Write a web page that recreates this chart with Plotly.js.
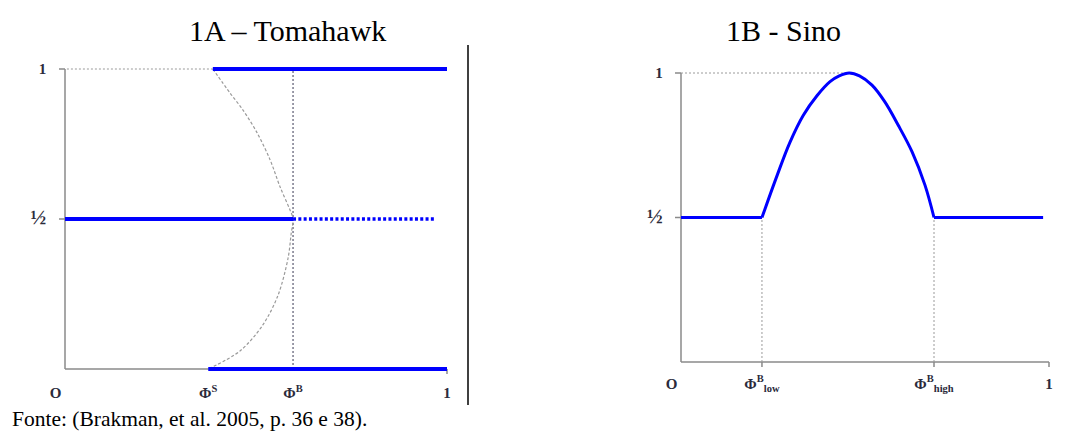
<!DOCTYPE html>
<html>
<head>
<meta charset="utf-8">
<script src="https://cdn.plot.ly/plotly-3.0.1.min.js"></script>
<style>html,body{margin:0;padding:0;background:#fff;}#chart{width:1065px;height:435px;}</style>
</head>
<body>
<div id="chart"></div>
<script>
// ---------- 1A – Tomahawk ----------
const phiS = 0.375;
const phiB = 0.597;
const upperX = [0.387, 1];      const upperY = [1, 1];
const midSolidX = [0, 0.597];   const midSolidY = [0.5, 0.5];
const midDotX = [0.597, 0.969]; const midDotY = [0.5, 0.5];
const lowerX = [0.375, 1];      const lowerY = [0, 0];
const tomaCurveX = [0.387, 0.432, 0.466, 0.503, 0.537, 0.563, 0.589, 0.597, 0.592, 0.584, 0.558, 0.518, 0.458, 0.375];
const tomaCurveY = [1.0, 0.92, 0.863, 0.787, 0.697, 0.607, 0.53, 0.5, 0.45, 0.37, 0.247, 0.147, 0.06, 0.0];
const tomaGuideX = [0.005, 0.387]; const tomaGuideY = [1, 1];
const tomaYTicks = [0.5, 1];
const tomaYLabels = ['½', '1'];
const tomaXTicks = [1];
const tomaXLabelVals = [0, 0.375, 0.597, 1];
const tomaXLabels = ['O', 'Φ<sup>S</sup>', 'Φ<sup>B</sup>', '1'];

// ---------- 1B - Sino ----------
const phiLow = 0.22;
const phiHigh = 0.6875;
const sinoLeftX = [0, 0.22];        const sinoLeftY = [0.5, 0.5];
const sinoRightX = [0.6875, 0.984]; const sinoRightY = [0.5, 0.5];
const bellX = [0.22, 0.261, 0.296, 0.332, 0.37, 0.405, 0.43, 0.457, 0.485, 0.519, 0.554, 0.59, 0.628, 0.663, 0.6875];
const bellY = [0.5, 0.645, 0.76, 0.853, 0.922, 0.97, 0.99, 1.0, 0.99, 0.958, 0.9, 0.82, 0.727, 0.612, 0.5];
const sinoGuideX = [0, 0.457]; const sinoGuideY = [1, 1];
const sinoYTicks = [0.5, 1];
const sinoYLabels = ['½', '1'];
const sinoXTicks = [0.22, 0.6875, 1];
const sinoXLabelVals = [0, 0.22, 0.6875, 1];
const sinoXLabels = ['O', 'Φ<sup>B</sup><sub>low</sub>', 'Φ<sup>B</sup><sub>high</sub>', '1'];

// ---------- layout helpers (pixel frame of each panel) ----------
const W = 1065, H = 435;
function dom(p0, p1, ext) {
  const per = (p1 - p0);
  return [p0 - ext * per, p1 + ext * per];
}
const lx = dom(65, 447, 0.02), ly = dom(369, 69, 0.03);
const rx = dom(681, 1049, 0.02), ry = dom(362, 73, 0.03);
const xd = p => [p[0] / W, p[1] / W];
const yd = p => [(H - p[0]) / H, (H - p[1]) / H];

const blue = '#0000ff';
const guide = {color: '#9a9a9a', width: 1, dash: '2px,2px'};
const serif = '"Liberation Serif", "Times New Roman", serif';

const traces = [
  // 1A
  {x: tomaGuideX, y: tomaGuideY, xaxis: 'x', yaxis: 'y', mode: 'lines', line: guide},
  {x: [phiB, phiB], y: [0, 1], xaxis: 'x', yaxis: 'y', mode: 'lines', line: {color: '#7a7a8c', width: 1.5, dash: '2px,2px'}},
  {x: tomaCurveX, y: tomaCurveY, xaxis: 'x', yaxis: 'y', mode: 'lines', line: {color: '#9a9a9a', width: 1.2, dash: '3px,2px', shape: 'spline', smoothing: 0.9}},
  {x: upperX, y: upperY, xaxis: 'x', yaxis: 'y', mode: 'lines', line: {color: blue, width: 4}},
  {x: midSolidX, y: midSolidY, xaxis: 'x', yaxis: 'y', mode: 'lines', line: {color: blue, width: 4}},
  {x: midDotX, y: midDotY, xaxis: 'x', yaxis: 'y', mode: 'lines', line: {color: blue, width: 3.5, dash: '3px,2.3px'}},
  {x: lowerX, y: lowerY, xaxis: 'x', yaxis: 'y', mode: 'lines', line: {color: blue, width: 4}},
  // 1B
  {x: sinoGuideX, y: sinoGuideY, xaxis: 'x2', yaxis: 'y2', mode: 'lines', line: guide},
  {x: [phiLow, phiLow], y: [0, 0.5], xaxis: 'x2', yaxis: 'y2', mode: 'lines', line: guide},
  {x: [phiHigh, phiHigh], y: [0, 0.5], xaxis: 'x2', yaxis: 'y2', mode: 'lines', line: guide},
  {x: sinoLeftX, y: sinoLeftY, xaxis: 'x2', yaxis: 'y2', mode: 'lines', line: {color: blue, width: 3}},
  {x: bellX, y: bellY, xaxis: 'x2', yaxis: 'y2', mode: 'lines', line: {color: blue, width: 3, shape: 'spline', smoothing: 1}},
  {x: sinoRightX, y: sinoRightY, xaxis: 'x2', yaxis: 'y2', mode: 'lines', line: {color: blue, width: 3}}
];

const axisLine = {color: '#8a8a8a', width: 1.5};
const shapes = [];
[['x', 'y'], ['x2', 'y2']].forEach(([xr, yr]) => {
  shapes.push({type: 'line', layer: 'below', xref: xr, yref: yr, x0: 0, x1: 1, y0: 0, y1: 0, line: axisLine});
  shapes.push({type: 'line', layer: 'below', xref: xr, yref: yr, x0: 0, x1: 0, y0: 0, y1: 1, line: axisLine});
});
function yTicks(vals, xr, yr) {
  vals.forEach(v => shapes.push({type: 'line', layer: 'below', xref: xr, yref: yr, xsizemode: 'pixel', xanchor: 0, x0: -6, x1: 0, y0: v, y1: v, line: axisLine}));
}
function xTicks(vals, xr, yr) {
  vals.forEach(v => shapes.push({type: 'line', layer: 'below', xref: xr, yref: yr, ysizemode: 'pixel', yanchor: 0, y0: 0, y1: -5, x0: v, x1: v, line: axisLine}));
}
yTicks(tomaYTicks, 'x', 'y'); xTicks(tomaXTicks, 'x', 'y');
yTicks(sinoYTicks, 'x2', 'y2'); xTicks(sinoXTicks, 'x2', 'y2');
shapes.push({type: 'line', xref: 'paper', yref: 'paper', x0: 468 / W, x1: 468 / W, y0: (H - 45) / H, y1: (H - 405) / H, line: {color: '#000', width: 1.5}});

const tickFont = {family: serif, size: 15, color: '#2b2b3b', weight: 700};
const yLbl = arr => arr.map(t => t === '½' ? '<span style="font-size:21px">½</span>' : t);
// origin label sits left of the origin in the reference: pad with no-break spaces
const xLbl = arr => arr.map(t => t === 'O' ? 'O\u00a0\u00a0\u00a0\u00a0\u00a0' : t);

const annotations = [
  {text: '1A – Tomahawk', xref: 'paper', yref: 'paper', x: 287 / W, y: (H - 30) / H, showarrow: false, xanchor: 'center', yanchor: 'middle', font: {family: serif, size: 30, color: '#000'}},
  {text: '1B - Sino', xref: 'paper', yref: 'paper', x: 783 / W, y: (H - 30) / H, showarrow: false, xanchor: 'center', yanchor: 'middle', font: {family: serif, size: 30, color: '#000'}},
  {text: 'Fonte: (Brakman, et al. 2005, p. 36 e 38).', xref: 'paper', yref: 'paper', x: 10 / W, y: (H - 419) / H, showarrow: false, xanchor: 'left', yanchor: 'middle', font: {family: serif, size: 21.5, color: '#000'}}
];

const base = {showgrid: false, zeroline: false, showline: false, ticks: '', tickmode: 'array', tickfont: tickFont, fixedrange: true};
const layout = {
  width: W, height: H,
  margin: {l: 0, r: 0, t: 0, b: 0},
  paper_bgcolor: '#fff', plot_bgcolor: 'rgba(0,0,0,0)',
  showlegend: false,
  xaxis: Object.assign({}, base, {domain: xd(lx), range: [-0.02, 1.02], anchor: 'y', tickvals: tomaXLabelVals, ticktext: xLbl(tomaXLabels), ticklabelstandoff: 4}),
  yaxis: Object.assign({}, base, {domain: yd(ly), range: [-0.03, 1.03], anchor: 'x', tickvals: tomaYTicks, ticktext: yLbl(tomaYLabels), ticklabelstandoff: 10}),
  xaxis2: Object.assign({}, base, {domain: xd(rx), range: [-0.02, 1.02], anchor: 'y2', tickvals: sinoXLabelVals, ticktext: xLbl(sinoXLabels), ticklabelstandoff: 2}),
  yaxis2: Object.assign({}, base, {domain: yd(ry), range: [-0.03, 1.03], anchor: 'x2', tickvals: sinoYTicks, ticktext: yLbl(sinoYLabels), ticklabelstandoff: 10}),
  shapes: shapes,
  annotations: annotations
};
Plotly.newPlot('chart', traces, layout, {staticPlot: true, displayModeBar: false});
</script>
</body>
</html>
